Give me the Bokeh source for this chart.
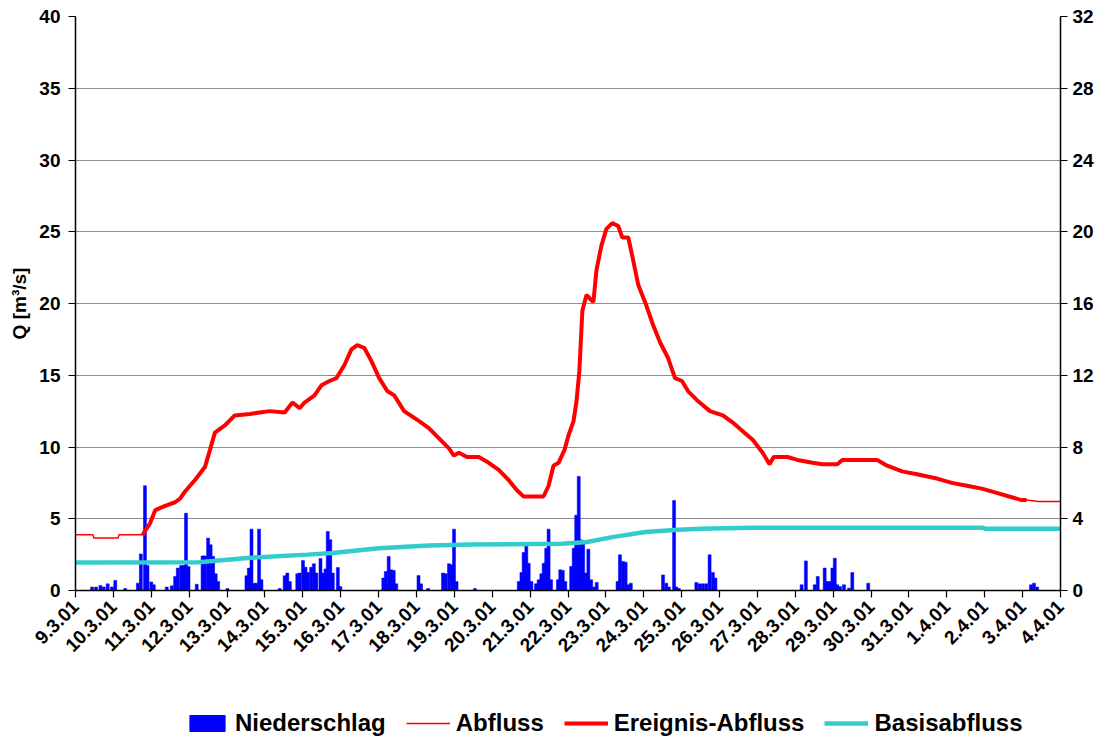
import math
from bokeh.plotting import figure
from bokeh.layouts import column
from bokeh.models import (Range1d, LinearAxis, FixedTicker, Legend, LegendItem,
                          ColumnDataSource)
from bokeh.embed import file_html
from bokeh.resources import INLINE

# ---------------- data ----------------
date_labels = ["9.3.01", "10.3.01", "11.3.01", "12.3.01", "13.3.01", "14.3.01",
               "15.3.01", "16.3.01", "17.3.01", "18.3.01", "19.3.01", "20.3.01",
               "21.3.01", "22.3.01", "23.3.01", "24.3.01", "25.3.01", "26.3.01",
               "27.3.01", "28.3.01", "29.3.01", "30.3.01", "31.3.01", "1.4.01",
               "2.4.01", "3.4.01", "4.4.01"]
series_names = ["Niederschlag", "Abfluss", "Ereignis-Abfluss", "Basisabfluss"]

# Niederschlag [mm], time in hours since 9.3.01 00:00
rain_h = [10.5, 13, 15.8, 17.9, 20.4, 23.1, 25.2, 31.5, 39.5, 41.4, 44, 45.6,
          48, 49.6, 57.8, 61, 63.1, 64.8, 66.9, 68.4, 70, 71.6, 76.8, 80.5,
          82, 84, 85.6, 87.2, 88.8, 90.4, 96.3, 108.3, 109.8, 111.5, 113.1,
          114.6, 116.3, 117.8, 129.3, 132.5, 134.2, 135.8, 140.5, 142, 144.1,
          145.7, 147.3, 149.3, 151, 152.6, 155.2, 156.8, 158.4, 159.8, 161.4,
          163, 166.2, 167.8, 195, 196.6, 198.4, 200, 201.6, 203.2, 217.3,
          218.9, 223.4, 232.8, 234.5, 236.6, 238.3, 239.8, 241.4, 253, 280.8,
          282.5, 283.9, 285.6, 287.1, 288.8, 291.7, 293.4, 295.1, 296.6,
          298.2, 299.7, 301.3, 305.6, 307.1, 308.7, 310.3, 314, 315.6, 317.2,
          318.8, 320.1, 321.6, 323.1, 324.9, 326.7, 328.5, 330.2, 343.4,
          344.9, 346.8, 348.5, 350.1, 351.8, 372.2, 374.3, 375.9, 379.2,
          380.6, 382.2, 393.3, 395.4, 397.5, 399.6, 401.7, 403.8, 405.4,
          460, 462.7, 468.3, 470.2, 474.6, 476.3, 477.9, 479.5, 481, 482.6,
          484.3, 486.8, 490, 492.1, 502.2, 605.3, 607.2, 609.2, 610.9]
rain_mm = [0.19, 0.19, 0.28, 0.2, 0.37, 0.2, 0.56, 0.11, 0.41, 2.04, 5.84, 1.4,
           0.48, 0.32, 0.19, 0.26, 0.78, 1.25, 1.39, 1.39, 4.31, 1.34, 0.35,
           1.93, 1.93, 2.92, 2.55, 1.9, 0.93, 0.5, 0.11, 0.82, 1.25, 3.42,
           0.4, 0.4, 3.42, 0.6, 0.11, 0.82, 0.97, 0.5, 0.93, 0.97, 1.67, 1.3,
           1.0, 1.3, 1.49, 0.97, 1.78, 0.97, 1.2, 3.29, 2.83, 0.97, 1.28,
           0.22, 0.69, 1.06, 1.9, 1.15, 1.12, 0.37, 0.84, 0.37, 0.11, 0.97,
           0.93, 1.49, 1.43, 3.42, 0.5, 0.11, 0.5, 1.0, 2.12, 2.55, 1.52,
           0.5, 0.37, 0.6, 0.93, 1.52, 2.36, 3.42, 0.6, 0.6, 1.15, 1.12, 0.5,
           1.34, 2.36, 4.2, 6.36, 2.83, 2.73, 0.97, 2.3, 0.6, 0.19, 0.45, 0.5,
           1.99, 1.62, 1.58, 0.32, 0.41, 0.87, 0.41, 0.19, 5.02, 0.19, 0.11,
           0.45, 0.37, 0.37, 0.37, 1.99, 1.0, 0.69, 0.32, 1.65, 0.32, 0.78,
           1.25, 0.5, 0.5, 1.25, 1.8, 0.32, 0.22, 0.32, 0.13, 1.0, 0.41,
           0.32, 0.41, 0.19]

# Abfluss [m3/s]
abfluss_h = [0, 11, 11.6, 27, 27.5, 42.5, 47.3, 50.5, 56.8, 63.1, 66.2, 69.4,
             75.7, 82, 85.2, 88.3, 94.6, 100.9, 110.4, 116.7, 123, 132.5,
             137.5, 142, 145.1, 151.4, 155.8, 160.9, 165.3, 170.3, 174.8,
             178.5, 183, 187.4, 192.4, 197.5, 201.9, 208.2, 217.7, 224, 230.3,
             236.6, 239.7, 242.9, 248, 255.5, 261.8, 268.1, 274.4, 279.5,
             283.9, 296.5, 299.7, 302.8, 306, 309.8, 312.3, 315.5, 317.4,
             319.2, 321.1, 323.7, 326.2, 328.1, 330, 333.1, 336.3, 340.1,
             343.8, 346.4, 350.2, 353.3, 356.5, 361.5, 365.9, 370.3, 375.4,
             379.8, 384.2, 388, 394.3, 401.9, 410.1, 416.4, 422.7, 429, 435.3,
             439.7, 442.3, 451.1, 457.4, 466.9, 473.2, 482.6, 485.8, 507.9,
             514.2, 523.7, 533.1, 545.7, 555.2, 564.7, 574.1, 583.6, 593.1,
             599.4, 602.5, 610, 624]
abfluss_q = [3.88, 3.88, 3.65, 3.65, 3.88, 3.88, 4.7, 5.6, 5.9, 6.15, 6.4, 6.9,
             7.7, 8.6, 9.8, 11.0, 11.5, 12.2, 12.3, 12.4, 12.5, 12.4, 13.1,
             12.7, 13.1, 13.6, 14.3, 14.6, 14.8, 15.7, 16.8, 17.1, 16.9, 16.0,
             14.8, 13.9, 13.6, 12.5, 11.8, 11.3, 10.6, 9.9, 9.4, 9.6, 9.3,
             9.3, 8.9, 8.4, 7.7, 7.0, 6.55, 6.55, 7.3, 8.7, 8.9, 9.8, 10.8,
             11.8, 13.2, 15.3, 19.5, 20.6, 20.3, 20.1, 22.3, 24.0, 25.2, 25.6,
             25.4, 24.6, 24.6, 23.0, 21.3, 19.9, 18.5, 17.3, 16.2, 14.8, 14.6,
             13.9, 13.2, 12.5, 12.2, 11.7, 11.1, 10.5, 9.6, 8.8, 9.3, 9.3,
             9.1, 8.9, 8.8, 8.8, 9.1, 9.1, 8.7, 8.3, 8.1, 7.8, 7.5, 7.3, 7.1,
             6.8, 6.5, 6.3, 6.3, 6.2, 6.2]
ereignis_start_h = 42.5
ereignis_end_h = 602.5

# Basisabfluss [m3/s]
basis_h = [0, 78, 109, 147, 163, 192, 224, 251, 308, 324, 340, 361, 382, 396,
           428, 575, 576, 624]
basis_q = [1.95, 1.97, 2.27, 2.5, 2.62, 2.95, 3.13, 3.2, 3.25, 3.38, 3.72,
           4.07, 4.23, 4.3, 4.38, 4.38, 4.3, 4.3]

# ---------------- styles ----------------
FONT = "Liberation Sans"
BLUE, RED, CYAN = "#0000FF", "#FF0000", "#33CCCC"
n_days = len(date_labels) - 1

# ---------------- main figure ----------------
p = figure(frame_width=985, frame_height=574, output_backend="svg",
           toolbar_location=None,
           x_range=Range1d(0, 24 * n_days), y_range=Range1d(0, 40),
           min_border_left=75, min_border_top=16, min_border_right=0,
           min_border_bottom=113,
           background_fill_color="white", border_fill_color="white",
           outline_line_color=None)
p.extra_y_ranges = {"mm": Range1d(0, 32)}

rain_src = ColumnDataSource(dict(x=rain_h, top=rain_mm))
p.vbar(x="x", top="top", width=1.9, source=rain_src, y_range_name="mm",
       fill_color=BLUE, line_color=BLUE, line_width=0.5)

p.line(abfluss_h, abfluss_q, line_color=RED, line_width=1.5)

ev = [(h, q) for h, q in zip(abfluss_h, abfluss_q)
      if ereignis_start_h <= h <= ereignis_end_h]
p.line([e[0] for e in ev], [e[1] for e in ev], line_color=RED, line_width=4)

p.line(basis_h, basis_q, line_color=CYAN, line_width=4.5)

def style_axis(ax):
    ax.axis_line_color = "#000000"
    ax.axis_line_width = 1.5
    ax.major_tick_line_color = "#000000"
    ax.major_tick_line_width = 1.2
    ax.major_tick_out = 7
    ax.major_tick_in = 0
    ax.minor_tick_line_color = None
    ax.major_label_text_font = FONT
    ax.major_label_text_font_style = "bold"
    ax.major_label_text_font_size = "19px"
    ax.major_label_text_color = "#000000"

xa = p.xaxis[0]
style_axis(xa)
xa.ticker = FixedTicker(ticks=[24 * i for i in range(len(date_labels))])
xa.major_label_overrides = {24 * i: lab for i, lab in enumerate(date_labels)}
xa.major_label_orientation = math.pi / 4
xa.major_label_standoff = 6

ya = p.yaxis[0]
style_axis(ya)
ya.ticker = FixedTicker(ticks=list(range(0, 41, 5)))
ya.axis_label = "Q [m³/s]"
ya.axis_label_text_font = FONT
ya.axis_label_text_font_style = "bold"
ya.axis_label_text_font_size = "19px"
ya.axis_label_text_color = "#000000"
ya.axis_label_standoff = 6
ya.major_label_standoff = 8

ra = LinearAxis(y_range_name="mm", ticker=FixedTicker(ticks=list(range(0, 33, 4))))
style_axis(ra)
ra.major_label_standoff = 5
p.add_layout(ra, "right")

p.xgrid.visible = False
p.ygrid.grid_line_color = "#8C8C8C"
p.ygrid.grid_line_width = 1
p.ygrid.ticker = FixedTicker(ticks=list(range(5, 41, 5)))

# ---------------- legend strip ----------------
lg = figure(width=1090, height=34, output_backend="svg", toolbar_location=None,
            x_axis_location=None, y_axis_location=None,
            x_range=Range1d(0, 1), y_range=Range1d(0, 1),
            min_border=0, outline_line_color=None,
            background_fill_color="white", border_fill_color="white")
lg.grid.visible = False
# legend proxies placed outside the visible range
k_rain = lg.vbar(x=[-5], top=[-5], bottom=[-6], width=1,
                 fill_color=BLUE, line_color=BLUE)
k_abfl = lg.line(x=[-6, -5], y=[-5, -5], line_color=RED, line_width=1.5)
k_ereig = lg.line(x=[-6, -5], y=[-5, -5], line_color=RED, line_width=4)
k_basis = lg.line(x=[-6, -5], y=[-5, -5], line_color=CYAN, line_width=4.5)

legend = Legend(items=[LegendItem(label=n, renderers=[r]) for n, r in
                       zip(series_names, [k_rain, k_abfl, k_ereig, k_basis])],
                orientation="horizontal", location=(110, 0),
                label_text_font=FONT, label_text_font_style="bold",
                label_text_font_size="24px", label_text_color="#000000",
                glyph_width=44, glyph_height=20, spacing=20, label_standoff=6,
                border_line_color=None, background_fill_alpha=0,
                padding=2, margin=0)
lg.add_layout(legend)

open("out.html", "w").write(file_html(column(p, lg, spacing=0), INLINE))
